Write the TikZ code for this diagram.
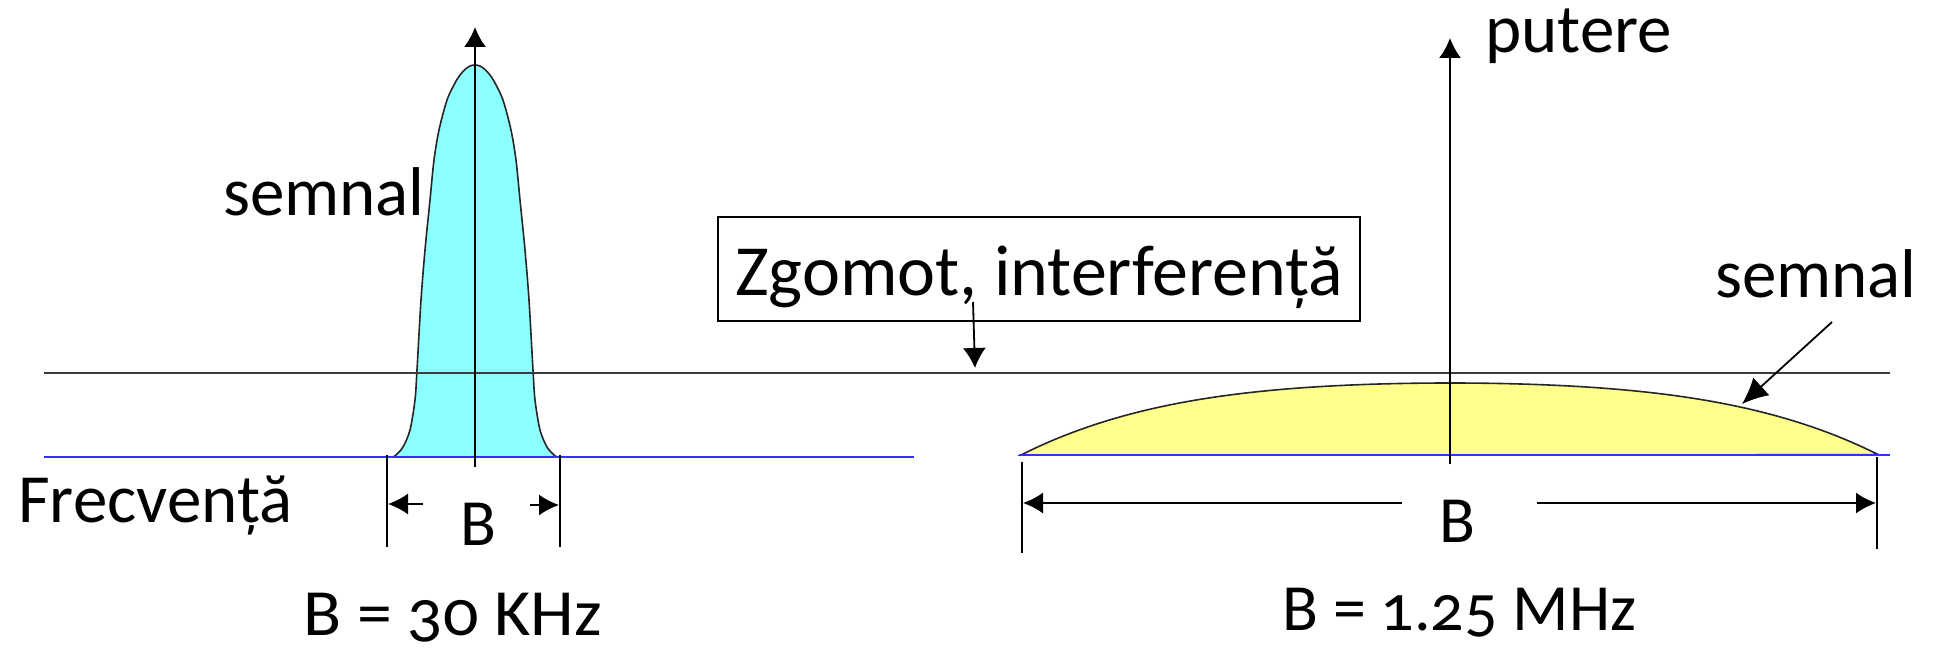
\documentclass[tikz,border=0pt]{standalone}
\usepackage{fontspec}
\setmainfont{Carlito}[Numbers=OldStyle]
\usetikzlibrary{arrows.meta}
\definecolor{sigcyan}{RGB}{140,255,255}
\definecolor{sigyellow}{RGB}{255,255,140}
\definecolor{baseblue}{RGB}{50,50,255}
\definecolor{noisegray}{RGB}{60,60,60}
\begin{document}
\begin{tikzpicture}[x=1pt,y=-1pt,
  lbl/.style={inner sep=0pt, anchor=base west, text=black},
  lblc/.style={inner sep=0pt, anchor=base, text=black},
  axisarrow/.style={line width=2pt, -{Latex[length=20pt,width=22pt]}},
  dimarrow/.style={line width=1.8pt, -{Latex[length=20pt,width=21pt]}},
  tickline/.style={line width=1.8pt},
  bluebase/.style={draw=baseblue, line width=2.5pt},
  noiseline/.style={draw=noisegray, line width=1.8pt},
  curveline/.style={draw=black!85, line width=1.6pt},
  bigfont/.style={font=\fontsize{69}{80}\selectfont},
  valfont/.style={font=\fontsize{66}{76}\selectfont}]
\useasboundingbox[fill=white] (0,0) rectangle (1933,650);

% filled spectra
\filldraw[fill=sigcyan, curveline] plot[smooth, tension=0.5] coordinates {
  (393,457) (396,455) (403,447) (410,430) (415,400) (417,370) (421,300)
  (425,250) (430,200) (434,160) (439,130) (447,100) (455,83) (460,75)
  (465,69.5) (470,66) (475,65) (480,66) (485,69.5) (490,75) (495,83)
  (503,100) (511,130) (516,160) (520,200) (525,250) (529,300) (533,370)
  (535,400) (540,430) (547,447) (554,455) (557,457)} -- cycle;
\filldraw[fill=sigyellow, curveline]
  plot[domain=-1:1, samples=101, smooth]
  ({1450+429*\x}, {455-72*(1-\x*\x)*(1+0.5*\x*\x)}) -- cycle;

% base and noise lines
\coordinate (nl) at (44,373);
\coordinate (nr) at (1890,373);
\draw[noiseline] (nl) -- (nr);
\coordinate (bl1) at (44,457);
\coordinate (bl2) at (914,457);
\coordinate (br1) at (1019,455);
\coordinate (br2) at (1890,455);
\draw[bluebase] (bl1) -- (bl2);
\draw[bluebase] (br1) -- (br2);

% axes
\coordinate (ax1b) at (475,467);
\coordinate (ax1t) at (475,27);
\coordinate (ax2b) at (1450,464);
\coordinate (ax2t) at (1450,38);
\draw[axisarrow] (ax1b) -- (ax1t);
\draw[axisarrow] (ax2b) -- (ax2t);

% left bandwidth dimension
\coordinate (lt1a) at (387,455);
\coordinate (lt1b) at (387,547);
\coordinate (lt2a) at (560,455);
\coordinate (lt2b) at (560,547);
\draw[tickline] (lt1a) -- (lt1b);
\draw[tickline] (lt2a) -- (lt2b);
\coordinate (la1s) at (423,504);
\coordinate (la1e) at (388,504);
\coordinate (la2s) at (530,505);
\coordinate (la2e) at (559,505);
\draw[dimarrow] (la1s) -- (la1e);
\draw[dimarrow] (la2s) -- (la2e);

% right bandwidth dimension
\coordinate (rt1a) at (1022,462);
\coordinate (rt1b) at (1022,553);
\coordinate (rt2a) at (1877,457);
\coordinate (rt2b) at (1877,549);
\draw[tickline] (rt1a) -- (rt1b);
\draw[tickline] (rt2a) -- (rt2b);
\coordinate (ra1s) at (1402,503);
\coordinate (ra1e) at (1023,503);
\coordinate (ra2s) at (1537,503);
\coordinate (ra2e) at (1876,503);
\draw[dimarrow] (ra1s) -- (ra1e);
\draw[dimarrow] (ra2s) -- (ra2e);

% labels
\node[lbl, bigfont] (semL) at (223,215) {semnal};
\node[lbl, bigfont] (put) at (1485,53) {putere};
\node[lbl, bigfont] (semR) at (1715,297) {semnal};
\node[lbl, bigfont] (frec) at (18,522) {Frecvență};
\node[lblc, valfont] (bL) at (478,545) {B};
\node[lblc, valfont] (bR) at (1457,542) {B};
\node[lbl, valfont, xscale=1.06] (valL) at (303,635) {B = 30 KHz};
\node[lbl, valfont] (valR) at (1282,630) {B = 1.25 MHz};

% noise box
\node[draw=black, line width=1.8pt, minimum width=642pt, minimum height=104pt,
      inner xsep=0pt, inner ysep=0pt, text height=58pt, text depth=6pt,
      font=\fontsize{72}{82}\selectfont] (zg) at (1039,269) {Zgomot, interferență};
\coordinate (zgs) at (973,302);
\coordinate (zge) at (975,368);
\draw[line width=1.8pt, -{Latex[length=20pt,width=23pt]}] (zgs) -- (zge);

% arrow to right signal
\coordinate (sas) at (1832,322);
\coordinate (sae) at (1742,404);
\draw[line width=1.8pt, -{Latex[length=26pt,width=24pt]}] (sas) -- (sae);
\end{tikzpicture}
\end{document}
